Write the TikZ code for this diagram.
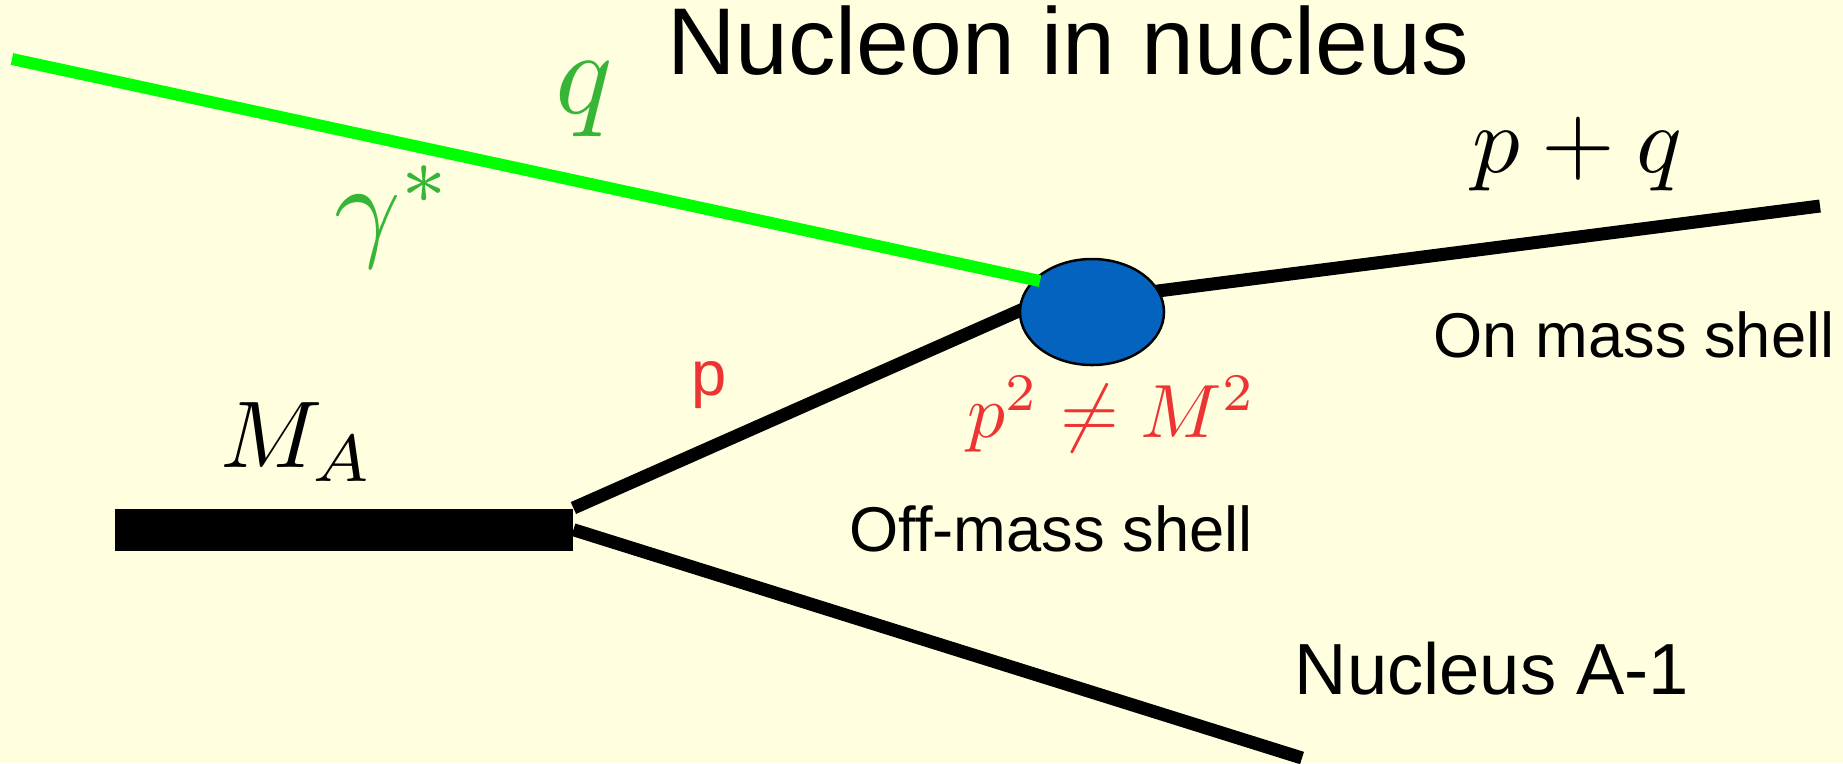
\documentclass[tikz,border=0pt]{standalone}
\usepackage[no-math]{fontspec}
\setmainfont{Liberation Sans}
\usepackage{amsmath}
\usetikzlibrary{shapes.geometric}
\definecolor{bgcol}{HTML}{FFFFDF}
\definecolor{photon}{HTML}{00FF00}
\definecolor{gamtxt}{HTML}{36B536}
\definecolor{offred}{HTML}{EE3333}
\definecolor{blobcol}{HTML}{0563C0}
\def\lw{1.3mm}

\begin{document}
\begin{tikzpicture}[x=0.1mm, y=-0.1mm]
  \fill[bgcol] (0,0) rectangle (1843,763);
  \useasboundingbox (0,0) rectangle (1843,763);

  \node[fill=black, minimum width=45.8mm, minimum height=4.2mm, inner sep=0, anchor=north west] (nucA) at (114,508) {};

  \coordinate (pend) at (1030,306);
  \coordinate (pqstart) at (1150,292);
  \coordinate (pqend) at (1820,206);
  \coordinate (restend) at (1302,758);
  \coordinate (gstart) at (12,59);
  \coordinate (gend) at (1040,281);

  \draw[line width=\lw] (nucA.north east) -- (pend);
  \draw[line width=\lw] (nucA.east) -- (restend);
  \draw[line width=\lw] (pqstart) -- (pqend);

  \node[ellipse, draw, line width=0.25mm, fill=blobcol, minimum width=14.4mm, minimum height=10.6mm, inner sep=0] (blob) at (1092,312) {};

  \draw[line width=1.2mm, photon] (gstart) -- (gend);

  \node[scale=2.7] (title) at (1068,41) {Nucleon in nucleus};
  \node[scale=3.4, gamtxt] (qlab) at (584,99) {$q$};
  \node[scale=3.3, gamtxt] (gamlab) at (394,217) {$\gamma^*$};
  \node[scale=2.7] (pqlab) at (1577,154) {$p+q$};
  \node[scale=1.8] (onlab) at (1634,335) {On mass shell};
  \node[scale=1.8, offred] (plab) at (709,385) {p};
  \node[scale=2.15, offred] (offlab) at (1112,414) {$p^2\neq M^2$};
  \node[scale=2.7] (malab) at (297,442) {$M_A$};
  \node[scale=1.8] (offtxt) at (1051,529) {Off-mass shell};
  \node[scale=2.06] (restlab) at (1492,669) {Nucleus A-1};
\end{tikzpicture}
\end{document}
